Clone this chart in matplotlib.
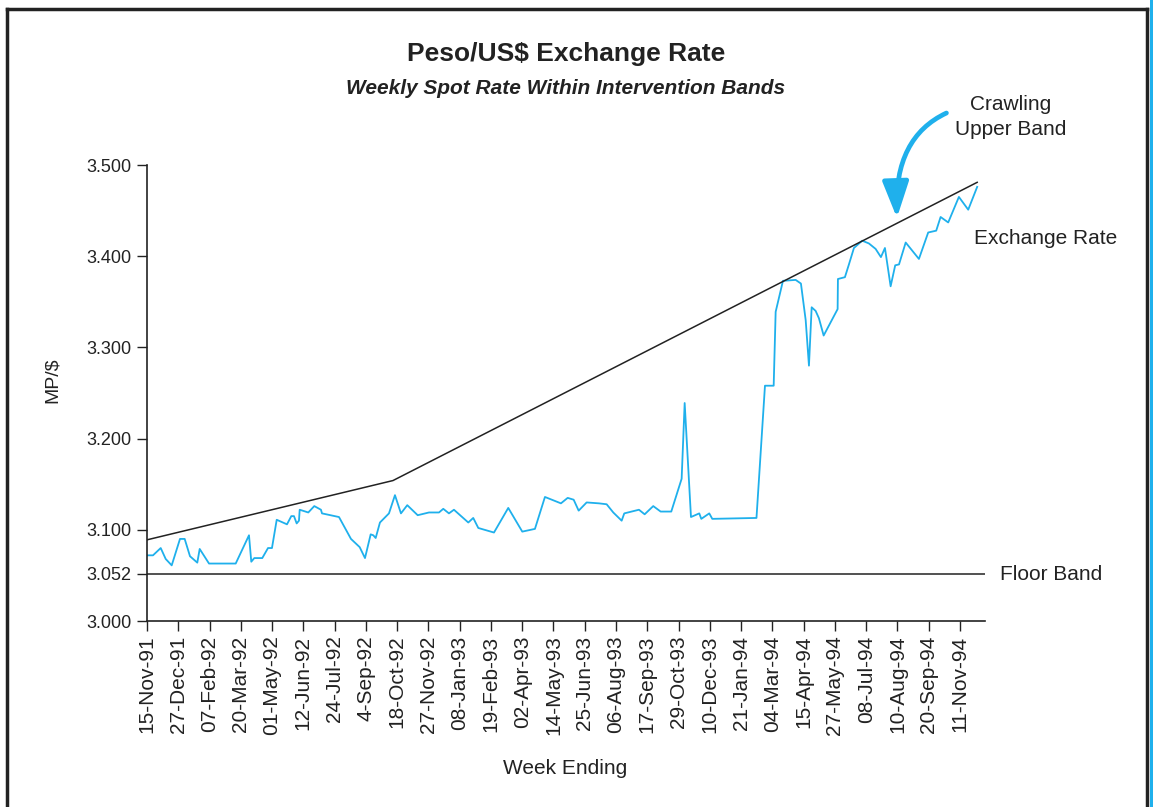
import matplotlib
matplotlib.use("Agg")
import matplotlib.pyplot as plt
from matplotlib.lines import Line2D
from matplotlib.patches import Rectangle

plt.rcParams['font.family'] = ['Liberation Sans', 'DejaVu Sans']

# ---- data (weeks since 15-Nov-91, MP per US$) ----
weeks = [0, 1.15, 2.63, 3.59, 4.74, 6.33, 7.23, 8.25, 9.65, 10.11, 11.90, 17.02,
         19.57, 20.01, 20.59, 22.12, 23.22, 23.98, 24.89, 26.86, 27.69, 28.20,
         28.72, 29.16, 29.30, 30.95, 32.10, 33.38, 33.58, 36.84, 39.14, 40.81,
         41.83, 42.92, 43.42, 43.88, 44.70, 46.43, 47.58, 48.73, 49.94, 51.94,
         54.11, 56.03, 56.85, 57.94, 58.90, 61.65, 62.60, 63.57, 66.58, 69.32,
         72.01, 74.44, 76.36, 79.43, 80.72, 81.87, 82.83, 84.36, 86.72, 88.20,
         89.47, 91.08, 91.58, 94.40, 95.49, 97.14, 98.56, 100.60, 102.59, 103.17,
         104.38, 105.97, 106.36, 107.89, 108.47, 116.95, 118.58, 120.25, 120.63,
         122.03, 124.47, 125.48, 126.39, 127.02, 127.54, 128.30, 128.93, 129.84,
         132.52, 132.58, 133.92, 134.69, 135.65, 137.24, 138.52, 139.81, 140.83,
         141.60, 142.69, 143.57, 144.30, 145.58, 148.12, 149.90, 151.44, 152.28,
         153.74, 155.79, 157.58, 159.30]
rates = [3.072, 3.072, 3.080, 3.068, 3.061, 3.090, 3.090, 3.071, 3.064, 3.079, 3.063, 3.063,
         3.094, 3.065, 3.069, 3.069, 3.080, 3.080, 3.111, 3.106, 3.115, 3.115,
         3.107, 3.110, 3.122, 3.119, 3.126, 3.122, 3.118, 3.114, 3.090, 3.081,
         3.069, 3.095, 3.094, 3.091, 3.108, 3.118, 3.138, 3.118, 3.127, 3.116,
         3.119, 3.119, 3.123, 3.118, 3.122, 3.108, 3.113, 3.102, 3.097, 3.124,
         3.098, 3.101, 3.136, 3.129, 3.135, 3.133, 3.121, 3.130, 3.129, 3.128,
         3.119, 3.110, 3.118, 3.122, 3.117, 3.126, 3.120, 3.120, 3.156, 3.239,
         3.114, 3.118, 3.112, 3.118, 3.112, 3.113, 3.258, 3.258, 3.339,
         3.373, 3.374, 3.370, 3.330, 3.280, 3.344, 3.340, 3.332, 3.313,
         3.342, 3.375, 3.377, 3.391, 3.409, 3.417, 3.414, 3.408, 3.399,
         3.409, 3.367, 3.390, 3.391, 3.415, 3.397, 3.426, 3.428, 3.443,
         3.437, 3.465, 3.451, 3.476]

band_weeks = [0, 47.2, 159.3]
band_rates = [3.089, 3.154, 3.481]
floor_rate = 3.052

tick_labels = ["15-Nov-91", "27-Dec-91", "07-Feb-92", "20-Mar-92", "01-May-92",
               "12-Jun-92", "24-Jul-92", "4-Sep-92", "18-Oct-92", "27-Nov-92",
               "08-Jan-93", "19-Feb-93", "02-Apr-93", "14-May-93", "25-Jun-93",
               "06-Aug-93", "17-Sep-93", "29-Oct-93", "10-Dec-93", "21-Jan-94",
               "04-Mar-94", "15-Apr-94", "27-May-94", "08-Jul-94", "10-Aug-94",
               "20-Sep-94", "11-Nov-94"]
y_ticks = [3.000, 3.052, 3.100, 3.200, 3.300, 3.400, 3.500]

CYAN = '#1fb0ec'
INK = '#222222'
W, H = 1153, 807


def fx(x):
    return x / W


def fy(y):
    return 1 - y / H


fig = plt.figure(figsize=(W / 100, H / 100), dpi=100)
ax = fig.add_axes([fx(147), fy(621), (985 - 147) / W, (621 - 165) / H])

ax.plot(weeks, rates, color=CYAN, lw=1.3)
ax.plot(band_weeks, band_rates, color=INK, lw=1.1)
ax.axhline(floor_rate, color=INK, lw=1.1)

ax.set_xlim(0, 160.8)
ax.set_ylim(3.0, 3.5)
ax.set_yticks(y_ticks)
ax.set_yticklabels([f"{v:.3f}" for v in y_ticks], fontsize=13)
ax.set_xticks([6 * i for i in range(len(tick_labels))])
ax.set_xticklabels(tick_labels, rotation=90, fontsize=15)
ax.tick_params(direction='out', length=7, width=1, colors=INK)
ax.tick_params(axis='y', pad=4)
for s in ['top', 'right']:
    ax.spines[s].set_visible(False)
for s in ['left', 'bottom']:
    ax.spines[s].set_color(INK)
    ax.spines[s].set_linewidth(1.2)

# textes
fig.text(fx(566), fy(54), "Peso/US$ Exchange Rate", ha='center', va='center',
         fontsize=19, fontweight='bold', color=INK)
fig.text(fx(566), fy(88), "Weekly Spot Rate Within Intervention Bands", ha='center',
         va='center', fontsize=15, fontweight='bold', style='italic', color=INK)
fig.text(fx(52), fy(380), "MP/$", rotation=90, ha='center', va='center',
         fontsize=14, color=INK)
fig.text(fx(565), fy(768), "Week Ending", ha='center', va='center',
         fontsize=15, color=INK)
fig.text(fx(1011), fy(117), "Crawling\nUpper Band", ha='center', va='center',
         fontsize=15, color=INK, linespacing=1.35)
fig.text(fx(974), fy(238), "Exchange Rate", ha='left', va='center',
         fontsize=15, color=INK)
fig.text(fx(1000), fy(574), "Floor Band", ha='left', va='center',
         fontsize=15, color=INK)

# flèche courbe
ax.annotate("", xy=(143.9, 3.442), xytext=(153.4, 3.557),
            annotation_clip=False,
            arrowprops=dict(arrowstyle='-|>,head_length=1.1,head_width=0.4',
                            connectionstyle='angle3,angleA=25,angleB=92',
                            color=CYAN, lw=3.4, mutation_scale=20,
                            shrinkA=0, shrinkB=0))

# cadre
for xs, ys in [([fx(7), fx(7)], [fy(9), 0]), ([fx(7), fx(1147)], [fy(9), fy(9)]),
               ([fx(1147), fx(1147)], [fy(9), 0])]:
    fig.add_artist(Line2D(xs, ys, color=INK, lw=2.5))
fig.add_artist(Rectangle((fx(1150), 0), fx(3), 1, color=CYAN, lw=0))

fig.savefig("out.png", dpi=100)
